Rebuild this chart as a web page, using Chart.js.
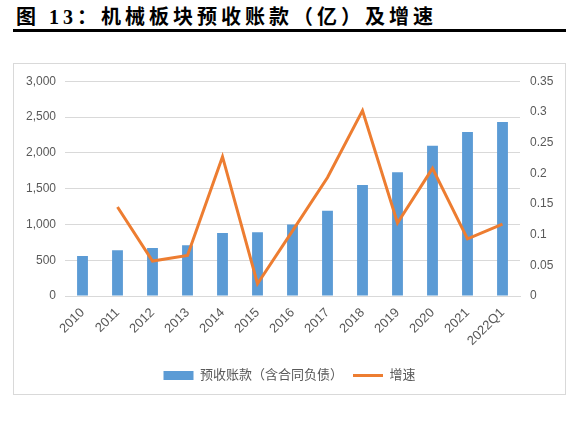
<!DOCTYPE html>
<html>
<head>
<meta charset="utf-8">
<script src="https://cdn.jsdelivr.net/npm/chart.js@4"></script>
<style>
  html, body { margin: 0; padding: 0; background: #fff; }
  body { width: 577px; height: 427px; position: relative; overflow: hidden; }
  .title {
    position: absolute; left: 16px; top: 1px;
    font-family: "Liberation Serif", "Noto Sans CJK SC", serif;
    font-weight: bold; font-size: 20px; letter-spacing: 4px; color: #000;
    white-space: nowrap;
  }
  .rule { position: absolute; left: 13px; top: 29px; width: 553px; height: 3px; background: #000; }
  .box {
    position: absolute; left: 13px; top: 63px; width: 551px; height: 330px;
    border: 1px solid #d9d9d9;
  }
</style>
</head>
<body>
<div class="title">图 13：机械板块预收账款（亿）及增速</div>
<div class="rule"></div>
<div class="box"><canvas id="chart" width="551" height="330"></canvas></div>
<script>
'use strict';

const years = ['2010', '2011', '2012', '2013', '2014', '2015', '2016', '2017', '2018', '2019', '2020', '2021', '2022Q1'];
const advance = [560, 640, 670, 710, 880, 890, 1000, 1190, 1550, 1730, 2100, 2290, 2430];
const growth = [null, 0.145, 0.057, 0.066, 0.227, 0.02, 0.106, 0.193, 0.302, 0.119, 0.208, 0.093, 0.117];
const leftTicks = [0, 500, 1000, 1500, 2000, 2500, 3000];
const rightTicks = [0, 0.05, 0.1, 0.15, 0.2, 0.25, 0.3, 0.35];

const grey = '#595959';
Chart.defaults.font.family = '"Liberation Sans", "Noto Sans CJK SC", sans-serif';
Chart.defaults.color = grey;

new Chart(document.getElementById('chart'), {
    type: 'bar',
    data: {
        labels: years,
        datasets: [
            {
                label: '预收账款（含合同负债）',
                data: advance,
                backgroundColor: '#5B9BD5',
                barPercentage: 0.31,
                categoryPercentage: 1,
                yAxisID: 'y',
                order: 2,
                pointStyle: 'rect'
            },
            {
                type: 'line',
                label: '增速',
                data: growth,
                borderColor: '#ED7D31',
                backgroundColor: '#ED7D31',
                borderWidth: 3,
                pointRadius: 0,
                tension: 0,
                yAxisID: 'y1',
                order: 1,
                pointStyle: 'line'
            }
        ]
    },
    options: {
        responsive: false,
        animation: false,
        layout: { padding: { top: 16, bottom: 2, left: 0, right: 0 } },
        scales: {
            x: {
                grid: { display: false, drawTicks: false },
                border: { color: '#d9d9d9' },
                ticks: { font: { size: 13 }, minRotation: 45, maxRotation: 45, padding: 9 },
                afterFit: (axis) => { axis.height = 63; }
            },
            y: {
                position: 'left',
                min: 0,
                max: 3000,
                grid: { color: '#d9d9d9', drawTicks: false },
                border: { display: false },
                ticks: {
                    font: { size: 12 },
                    padding: 9,
                    callback: (v) => v.toLocaleString('en-US')
                },
                afterBuildTicks: (axis) => { axis.ticks = leftTicks.map(v => ({ value: v })); },
                afterFit: (axis) => { axis.width = 51; }
            },
            y1: {
                position: 'right',
                min: 0,
                max: 0.35,
                grid: { display: false, drawTicks: false },
                border: { display: false },
                ticks: {
                    font: { size: 12 },
                    padding: 10,
                    callback: (v) => String(v)
                },
                afterBuildTicks: (axis) => { axis.ticks = rightTicks.map(v => ({ value: v })); },
                afterFit: (axis) => { axis.width = 45; }
            }
        },
        plugins: {
            legend: {
                position: 'bottom',
                labels: {
                    usePointStyle: true,
                    pointStyleWidth: 30,
                    boxHeight: 9,
                    padding: 10,
                    font: { size: 13 },
                    color: grey,
                    sort: (a, b) => a.datasetIndex - b.datasetIndex
                }
            },
            tooltip: { enabled: false }
        }
    }
});
</script>
</body>
</html>
